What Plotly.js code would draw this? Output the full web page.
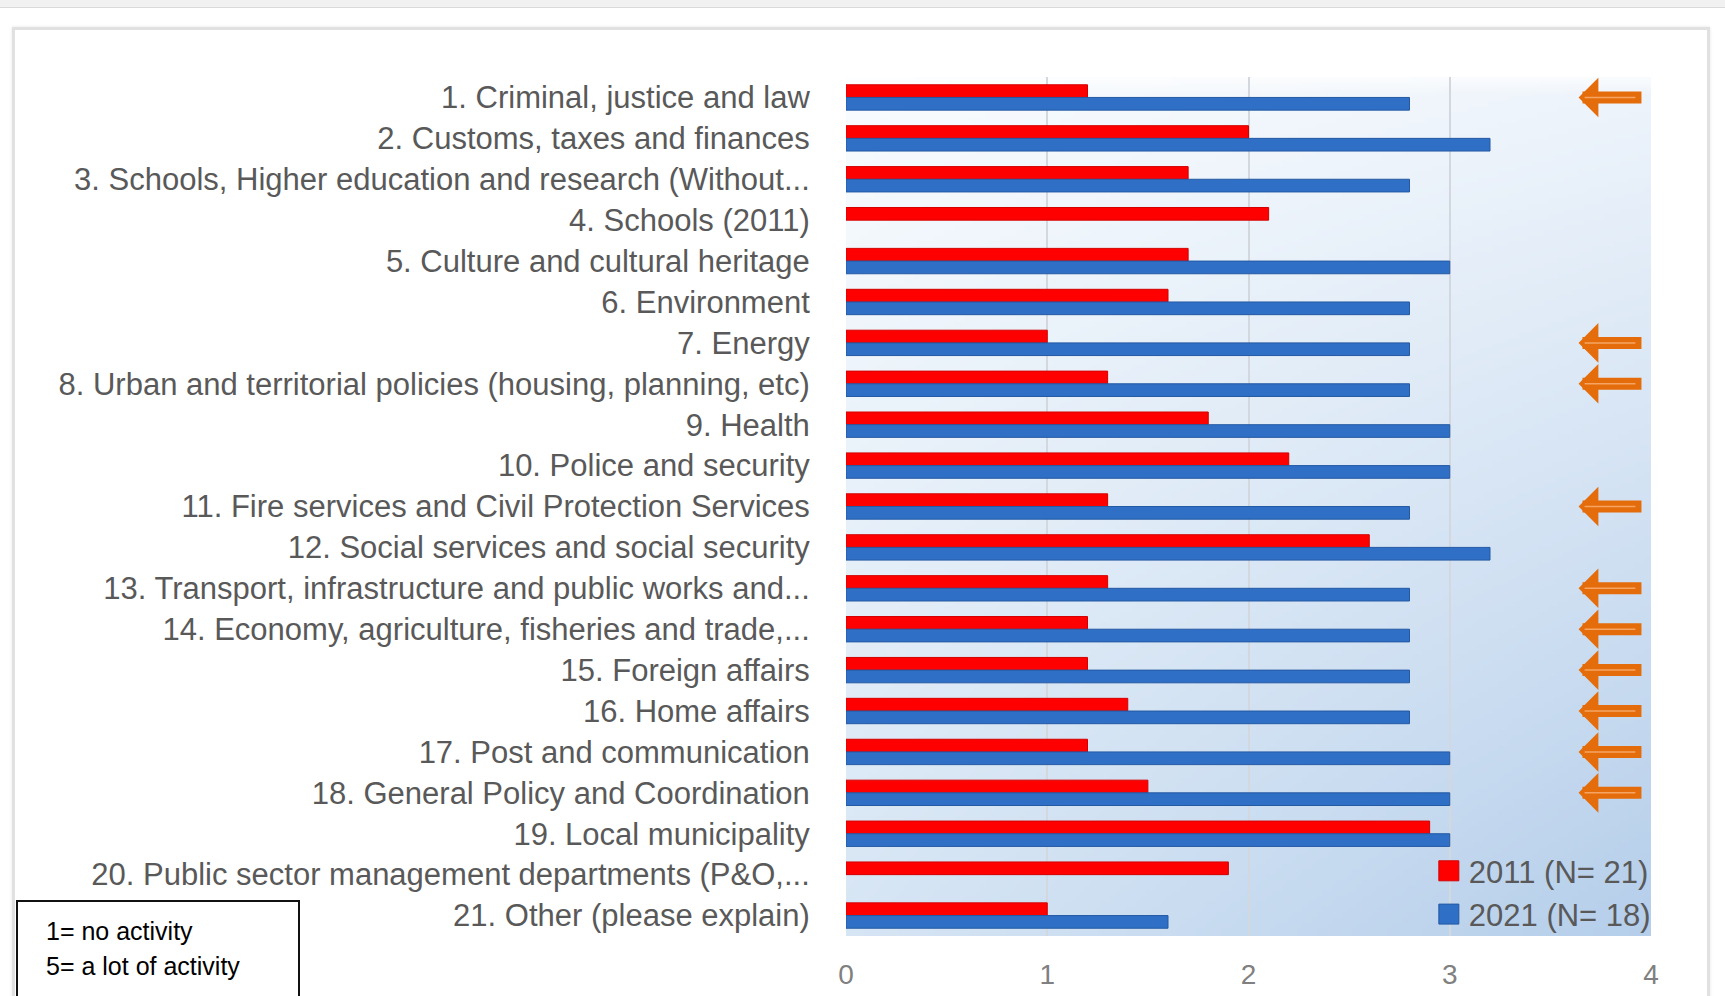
<!DOCTYPE html>
<html>
<head>
<meta charset="utf-8">
<script src="https://cdn.plot.ly/plotly-3.0.1.min.js"></script>
<style>
html, body { margin:0; padding:0; width:1725px; height:996px; overflow:hidden; background:#ffffff; }
#strip { position:absolute; left:0; top:0; width:1725px; height:7px; background:#f1f1f1; border-bottom:1px solid #dadada; }
#card { position:absolute; left:12px; top:27px; width:1692px; height:1010px; border:3px solid #e1e1e1; box-shadow:0 0 3px rgba(0,0,0,0.10); background:#ffffff; }
#chart { position:absolute; left:0; top:0; width:1725px; height:996px; }
</style>
</head>
<body>
<div id="strip"></div>
<div id="card"></div>
<div id="chart"></div>
<script>
// ---------- data ----------
const categories = [
  "1. Criminal, justice and law",
  "2. Customs, taxes and finances",
  "3. Schools, Higher education and research (Without...",
  "4. Schools (2011)",
  "5. Culture and cultural heritage",
  "6. Environment",
  "7. Energy",
  "8. Urban and territorial policies (housing, planning, etc)",
  "9. Health",
  "10. Police and security",
  "11. Fire services and Civil Protection Services",
  "12. Social services and social security",
  "13. Transport, infrastructure and public works and...",
  "14. Economy, agriculture, fisheries and trade,...",
  "15. Foreign affairs",
  "16. Home affairs",
  "17. Post and communication",
  "18. General Policy and Coordination",
  "19. Local municipality",
  "20. Public sector management departments (P&O,...",
  "21. Other (please explain)"
];
const values2011 = [1.2, 2.0, 1.7, 2.1, 1.7, 1.6, 1.0, 1.3, 1.8, 2.2, 1.3, 2.6, 1.3, 1.2, 1.2, 1.4, 1.2, 1.5, 2.9, 1.9, 1.0];
const values2021 = [2.8, 3.2, 2.8, null, 3.0, 2.8, 2.8, 2.8, 3.0, 3.0, 2.8, 3.2, 2.8, 2.8, 2.8, 2.8, 3.0, 3.0, 3.0, null, 1.6];
const seriesNames = ["2011 (N= 21)", "2021 (N= 18)"];
const xTickValues = [0, 1, 2, 3, 4];
const xTickLabels = ["0", "1", "2", "3", "4"];
const flaggedCategories = [
  "1. Criminal, justice and law",
  "7. Energy",
  "8. Urban and territorial policies (housing, planning, etc)",
  "11. Fire services and Civil Protection Services",
  "13. Transport, infrastructure and public works and...",
  "14. Economy, agriculture, fisheries and trade,...",
  "15. Foreign affairs",
  "16. Home affairs",
  "17. Post and communication",
  "18. General Policy and Coordination"
];
const noteLines = ["1= no activity", "5= a lot of activity"];

// ---------- styling ----------
const FONT = "'Liberation Sans', Arial, sans-serif";
const RED = "#ff0000";
const BLUE = "#2f6fc6";
const ORANGE = "#e46c0a";

// plot-area geometry (pixels) for paper-coordinate conversion
const PL = 846, PR = 1651, PT = 77, PB = 936;
const px2x = p => (p - PL) / (PR - PL);
const px2y = p => (PB - p) / (PB - PT);

function makeBackground() {
  const w = 160, h = 160;
  const c = document.createElement("canvas");
  c.width = w; c.height = h;
  const ctx = c.getContext("2d");
  const img = ctx.createImageData(w, h);
  const TL = [249, 252, 254], TR = [238, 244, 251], BL = [214, 229, 244], BR = [181, 206, 234];
  for (let y = 0; y < h; y++) {
    const v = y / (h - 1);
    for (let x = 0; x < w; x++) {
      const u = x / (w - 1);
      const i = (y * w + x) * 4;
      for (let k = 0; k < 3; k++) {
        const top = TL[k] + (TR[k] - TL[k]) * u;
        const bot = BL[k] + (BR[k] - BL[k]) * u;
        let val = top + (bot - top) * v;
        if (y < 3) val = val + (255 - val) * (1 - y / 3) * 0.6;
        img.data[i + k] = Math.round(val);
      }
      img.data[i + 3] = 255;
    }
  }
  ctx.putImageData(img, 0, 0);
  return c.toDataURL("image/png");
}

const traces = [
  {
    type: "bar", orientation: "h", name: seriesNames[0],
    y: categories, x: values2011,
    marker: { color: RED, line: { color: "#d40000", width: 1 } },
    hoverinfo: "skip"
  },
  {
    type: "bar", orientation: "h", name: seriesNames[1],
    y: categories, x: values2021,
    marker: { color: BLUE, line: { color: "#2459a3", width: 1 } },
    hoverinfo: "skip"
  }
];

const annotations = [];
flaggedCategories.forEach(cat => {
  annotations.push({
    x: 3.64, y: cat, xref: "x", yref: "y",
    axref: "x", ax: 3.96, ay: 0,
    text: "", showarrow: true,
    arrowhead: 1, arrowsize: 0.55, arrowwidth: 12, arrowcolor: ORANGE
  });
  annotations.push({
    x: 3.67, y: cat, xref: "x", yref: "y",
    axref: "x", ax: 3.93, ay: 0,
    text: "", showarrow: true,
    arrowhead: 0, arrowwidth: 1.5, arrowcolor: "#f5a464"
  });
});
annotations.push({
  xref: "paper", yref: "paper", x: px2x(44), y: px2y(931),
  xanchor: "left", yanchor: "middle", showarrow: false,
  text: noteLines[0], font: { family: FONT, size: 25, color: "#000000" }
});
annotations.push({
  xref: "paper", yref: "paper", x: px2x(44), y: px2y(966),
  xanchor: "left", yanchor: "middle", showarrow: false,
  text: noteLines[1], font: { family: FONT, size: 25, color: "#000000" }
});

const layout = {
  width: 1725, height: 996,
  margin: { l: PL, r: 1725 - PR, t: PT, b: 996 - PB, pad: 0 },
  paper_bgcolor: "rgba(0,0,0,0)",
  plot_bgcolor: "rgba(0,0,0,0)",
  barmode: "group", bargap: 0.38, bargroupgap: 0,
  font: { family: FONT, color: "#595959" },
  showlegend: true,
  xaxis: {
    range: [0, 4], tickmode: "array", tickvals: xTickValues, ticktext: xTickLabels,
    showgrid: true, gridcolor: "#d3d8df", gridwidth: 2,
    zeroline: false, showline: false,
    ticks: "outside", ticklen: 13, tickcolor: "rgba(0,0,0,0)",
    tickfont: { family: FONT, size: 28, color: "#808080" },
    fixedrange: true
  },
  yaxis: {
    type: "category", autorange: "reversed",
    categoryorder: "array", categoryarray: categories,
    showgrid: false, zeroline: false, showline: false,
    ticks: "outside", ticklen: 29, tickcolor: "rgba(0,0,0,0)",
    tickfont: { family: FONT, size: 31, color: "#595959" },
    fixedrange: true
  },
  legend: {
    x: 1.006, xanchor: "right", y: -0.006, yanchor: "bottom",
    font: { family: FONT, size: 31, color: "#595959" },
    bgcolor: "rgba(0,0,0,0)", traceorder: "normal",
    tracegroupgap: 0
  },
  images: [{
    source: makeBackground(), xref: "paper", yref: "paper",
    x: 0, y: 1, sizex: 1, sizey: 1, sizing: "stretch",
    xanchor: "left", yanchor: "top", layer: "below"
  }],
  shapes: [{
    type: "rect", xref: "paper", yref: "paper",
    x0: px2x(17), x1: px2x(299), y0: px2y(1005), y1: px2y(901),
    line: { color: "#111111", width: 2 }, fillcolor: "rgba(0,0,0,0)"
  }],
  annotations: annotations
};

Plotly.newPlot("chart", traces, layout, { staticPlot: true, displayModeBar: false }).then(gd => {
  gd.querySelectorAll(".legend .legendpoints path").forEach(p => p.setAttribute("d", "M10,10H-10V-10H10Z"));
});
</script>
</body>
</html>
